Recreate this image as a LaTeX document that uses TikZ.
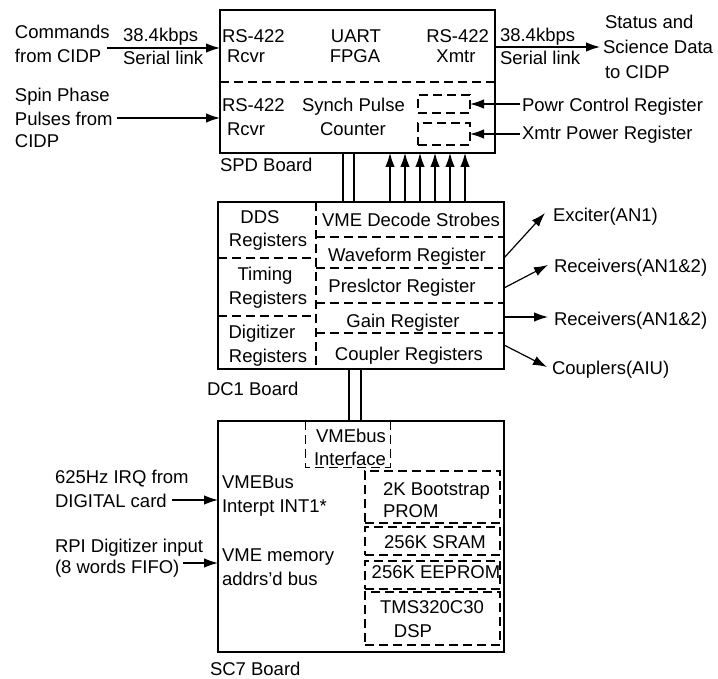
\documentclass[tikz,border=0pt]{standalone}
\usepackage{fontspec}
\setmainfont{Liberation Sans}
\usetikzlibrary{arrows.meta}
\begin{document}
\begin{tikzpicture}[x=1pt,y=-1pt,
  txt/.style={inner sep=0pt,outer sep=0pt,font=\fontsize{18.5}{22}\selectfont},
  board/.style={draw,line width=2.2pt,inner sep=0pt,outer sep=0pt},
  dsh/.style={line width=1.2pt,dash pattern=on 9pt off 5pt},
  dbox/.style={draw,dsh,inner sep=0pt,outer sep=0pt},
  arr/.style={line width=1.2pt,-{Latex[length=14pt,width=9.5pt]}},
  conn/.style={line width=1.2pt}]
\useasboundingbox (0,0) rectangle (718,679);

% ---------------- boards
\node[board,minimum width=275pt,minimum height=143pt] (spd) at (357.5,81.5) {};
\node[board,minimum width=286pt,minimum height=167pt] (dc1) at (361,285.5) {};
\node[board,minimum width=286pt,minimum height=231pt] (sc7) at (361,536.5) {};

% ---------------- SPD board
\draw[dsh] (spd.west |- 0,82) -- (spd.east |- 0,82);
\node[txt,anchor=base west] (r1a) at (222,43) {RS-422};
\node[txt,anchor=base west] (r1b) at (227,63) {Rcvr};
\node[txt,anchor=base] (uart) at (356,43) {UART};
\node[txt,anchor=base] (fpga) at (355,63) {FPGA};
\node[txt,anchor=base east] (x1a) at (489,43) {RS-422};
\node[txt,anchor=base] (x1b) at (456,63) {Xmtr};
\node[txt,anchor=base west] (r2a) at (222,112) {RS-422};
\node[txt,anchor=base west] (r2b) at (227,136) {Rcvr};
\node[txt,anchor=base west] (syn) at (302,112) {Synch Pulse};
\node[txt,anchor=base] (cnt) at (353,136) {Counter};
\node[dbox,minimum width=52pt,minimum height=18pt] (pcr) at (444,104) {};
\node[dbox,minimum width=52pt,minimum height=22pt] (xpr) at (444,134) {};
\node[txt,anchor=base west] (pct) at (522,112) {Powr Control Register};
\node[txt,anchor=base west] (xpt) at (522,140) {Xmtr Power Register};
\draw[arr] ([xshift=-2pt]pcr.east -| pct.west) -- (pcr.east);
\draw[arr] ([xshift=-2pt]xpr.east -| xpt.west) -- (xpr.east);
\node[txt,anchor=base west] (spdl) at (220,172) {SPD Board};

% inputs to SPD
\node[txt,anchor=base west] (cm1) at (15,39) {Commands};
\node[txt,anchor=base west] (cm2) at (15,63) {from CIDP};
\coordinate (cmS) at (107,48);
\draw[arr] (cmS) -- (spd.west |- cmS);
\node[txt,anchor=base west] (k1) at (123,42) {38.4kbps};
\node[txt,anchor=base west] (s1) at (123,65) {Serial link};
\node[txt,anchor=base west] (sp1) at (15,102) {Spin Phase};
\node[txt,anchor=base west] (sp2) at (15,126) {Pulses from};
\node[txt,anchor=base west] (sp3) at (15,148) {CIDP};
\coordinate (spS) at (117,118);
\draw[arr] (spS) -- (spd.west |- spS);

% output of SPD
\coordinate (outE) at (600,47);
\draw[arr] (spd.east |- outE) -- (outE);
\node[txt,anchor=base west] (k2) at (500,42) {38.4kbps};
\node[txt,anchor=base west] (s2) at (500,65) {Serial link};
\node[txt,anchor=base west] (st1) at (605,29) {Status and};
\node[txt,anchor=base west] (st2) at (603,54) {Science Data};
\node[txt,anchor=base west] (st3) at (605,79) {to CIDP};

% SPD <-> DC1
\draw[conn] (spd.south -| 343,0) -- (dc1.north -| 343,0);
\draw[conn] (spd.south -| 354,0) -- (dc1.north -| 354,0);
\foreach \x in {390,405,420,435,450,465}
  \draw[arr] (dc1.north -| \x,0) -- (spd.south -| \x,0);

% ---------------- DC1 board
\draw[dsh] (dc1.north -| 316,0) -- (dc1.south -| 316,0);
\draw[dsh] (dc1.west |- 0,258) -- (316,258);
\draw[dsh] (dc1.west |- 0,316) -- (316,316);
\foreach \y in {237,268,303,333}
  \draw[dsh] (316,\y) -- (dc1.east |- 0,\y);
\node[txt,anchor=base] (dds1) at (260,224) {DDS};
\node[txt,anchor=base] (dds2) at (268,247) {Registers};
\node[txt,anchor=base] (tim1) at (265,281) {Timing};
\node[txt,anchor=base] (tim2) at (268,305) {Registers};
\node[txt,anchor=base] (dig1) at (262,338) {Digitizer};
\node[txt,anchor=base] (dig2) at (268,362) {Registers};
\node[txt,anchor=base] (vme) at (411,227) {VME Decode Strobes};
\node[txt,anchor=base] (wav) at (407,262) {Waveform Register};
\node[txt,anchor=base] (pre) at (402,293) {Preslctor Register};
\node[txt,anchor=base] (gain) at (403,327) {Gain Register};
\node[txt,anchor=base] (cpl) at (409,360) {Coupler Registers};
\node[txt,anchor=base west] (dc1l) at (207,395) {DC1 Board};

% outputs of DC1
\node[txt,anchor=base west] (o1) at (553,222) {Exciter(AN1)};
\node[txt,anchor=base west] (o2) at (554,273) {Receivers(AN1\&2)};
\node[txt,anchor=base west] (o3) at (554,326) {Receivers(AN1\&2)};
\node[txt,anchor=base west] (o4) at (552,374) {Couplers(AIU)};
\coordinate (e1) at (545,213);
\coordinate (e2) at (548,265);
\coordinate (e3) at (548,317);
\coordinate (e4) at (547,367);
\draw[arr] (dc1.east |- 0,258) -- (e1);
\draw[arr] (dc1.east |- 0,288) -- (e2);
\draw[arr] (dc1.east |- e3) -- (e3);
\draw[arr] (dc1.east |- 0,345) -- (e4);

% DC1 <-> SC7
\draw[conn] (dc1.south -| 349,0) -- (sc7.north -| 349,0);
\draw[conn] (dc1.south -| 361,0) -- (sc7.north -| 361,0);

% ---------------- SC7 board
\node[inner sep=0pt,minimum width=84pt,minimum height=46pt] (vmei) at (348,444) {};
\draw[dsh] (vmei.north west) -- (vmei.south west) -- (vmei.south east) -- (vmei.north east);
\node[txt,anchor=base] (vm1) at (351,442) {VMEbus};
\node[txt,anchor=base] (vm2) at (350,465) {Interface};
\node[dbox,minimum width=135pt,minimum height=52pt] (boot) at (432.5,497) {};
\node[dbox,minimum width=135pt,minimum height=28pt] (sram) at (432.5,541) {};
\node[dbox,minimum width=135pt,minimum height=28pt] (eep) at (432.5,575) {};
\node[dbox,minimum width=135pt,minimum height=53pt] (dsp) at (432.5,618.5) {};
\node[txt,anchor=base west] (bt1) at (383,495) {2K Bootstrap};
\node[txt,anchor=base west] (bt2) at (383,517) {PROM};
\node[txt,anchor=base] (srt) at (435,548) {256K SRAM};
\node[txt,anchor=base] (eet) at (436,578) {256K EEPROM};
\node[txt,anchor=base] (ds1) at (432,613) {TMS320C30};
\node[txt,anchor=base] (ds2) at (413,637) {DSP};
\node[txt,anchor=base west] (lv1) at (222,488) {VMEBus};
\node[txt,anchor=base west] (lv2) at (222,512) {Interpt INT1*};
\node[txt,anchor=base west] (lv3) at (222,561) {VME memory};
\node[txt,anchor=base west] (lv4) at (222,585) {addrs'd bus};
\node[txt,anchor=base west] (sc7l) at (210,675) {SC7 Board};

% inputs to SC7
\node[txt,anchor=base west] (iq1) at (55,483) {625Hz IRQ from};
\node[txt,anchor=base west] (iq2) at (55,507) {DIGITAL card};
\node[txt,anchor=base west] (rp1) at (55,552) {RPI Digitizer input};
\node[txt,anchor=base west] (rp2) at (55,573) {(8 words FIFO)};
\coordinate (iqS) at (172,500);
\coordinate (rpS) at (183,563);
\draw[arr] (iqS) -- (sc7.west |- iqS);
\draw[arr] (rpS) -- (sc7.west |- rpS);
\end{tikzpicture}
\end{document}
